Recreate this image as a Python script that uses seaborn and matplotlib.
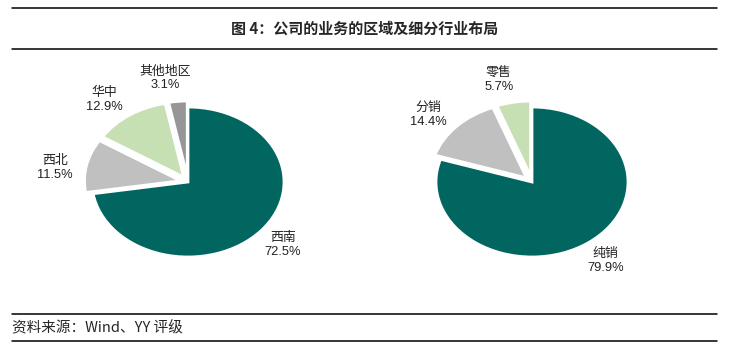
import numpy as np
import matplotlib
matplotlib.use("Agg")
import matplotlib.pyplot as plt
import seaborn as sns
from matplotlib.lines import Line2D

# Data
region_labels = ["西南", "西北", "华中", "其他地区"]
region_share = [72.5, 11.5, 12.9, 3.1]
region_colors = ["#00665F", "#C0C0C0", "#C6E0B4", "#969696"]

channel_labels = ["纯销", "分销", "零售"]
channel_share = [79.9, 14.4, 5.7]
channel_colors = ["#00665F", "#C0C0C0", "#C6E0B4"]

title = "图 4：公司的业务的区域及细分行业布局"
source = "资料来源：Wind、YY 评级"

sns.set_style("white")
plt.rcParams["font.family"] = ["Liberation Sans", "Noto Sans CJK SC", "DejaVu Sans"]

W, H = 729, 352
fig = plt.figure(figsize=(W / 100, H / 100), dpi=100)

RX, RY = 96, 75   # pie radii in pixels (pie is drawn slightly flattened)
SPAN = 1.6


def draw_pie(cx, cy, labels, values, colors):
    w = 2 * SPAN * RX
    h = 2 * SPAN * RY
    ax = fig.add_axes([(cx - w / 2) / W, (H - cy - h / 2) / H, w / W, h / H])
    explode = [0] + [0.08] * (len(values) - 1)
    wedges, _ = ax.pie(values, colors=colors, startangle=90, counterclock=False,
                       explode=explode,
                       wedgeprops=dict(edgecolor="white", linewidth=2))
    ax.set_aspect("auto")
    ax.set_xlim(-SPAN, SPAN)
    ax.set_ylim(-SPAN, SPAN)
    ax.axis("off")
    for i, (wd, lab, v) in enumerate(zip(wedges, labels, values)):
        mid = np.deg2rad((wd.theta1 + wd.theta2) / 2 + (0 if i == 0 else 4))
        d = 1.3 if i == 0 else 1.4
        ax.text(d * np.cos(mid), d * np.sin(mid), f"{lab}\n{v:.1f}%",
                ha="center", va="center", fontsize=9.3, color="#222222",
                linespacing=1.2)
    return ax


draw_pie(188, 182, region_labels, region_share, region_colors)
draw_pie(532, 182, channel_labels, channel_share, channel_colors)

# Title, source and rules
fig.text(W / 2 / W, 1 - 29 / H, title, ha="center", va="center",
         fontsize=10.8, fontweight="bold",
         family=["Noto Sans CJK SC", "DejaVu Sans"])
fig.text(12 / W, 1 - 328 / H, source, ha="left", va="center", fontsize=10.5,
         family=["Noto Sans CJK SC", "DejaVu Sans"])
for y in [8, 49, 314, 341]:
    fig.add_artist(Line2D([12 / W, 717 / W], [1 - y / H, 1 - y / H],
                          color="black", linewidth=1.1, transform=fig.transFigure))

fig.savefig("out.png", dpi=100)
